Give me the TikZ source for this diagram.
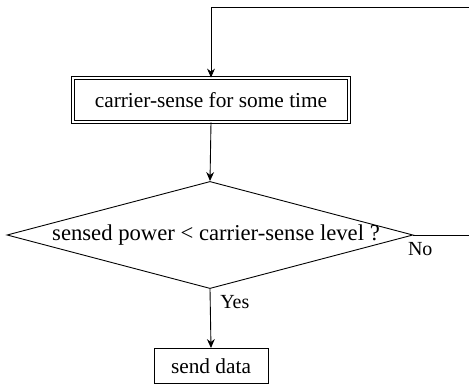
\documentclass[tikz,border=0pt]{standalone}
\usepackage{fontspec}
\setmainfont{Liberation Serif}
\usetikzlibrary{arrows.meta,shapes.geometric}

\begin{document}
\begin{tikzpicture}[x=0.45pt,y=-0.45pt,>={Stealth[length=4pt,width=3.5pt]},
    font=\fontsize{9.6pt}{11pt}\selectfont,
    procbox/.style={draw,rectangle,inner sep=0pt},
    testbox/.style={draw,diamond,inner sep=0pt,minimum width=182.7pt,minimum height=48.2pt}]
          \useasboundingbox (0,0) rectangle (469,385);
          \node[procbox,double,double distance=1.1pt,minimum width=124pt,minimum height=19.8pt] (sense) at (211,100) {carrier-sense for some time};
          \node[testbox] (test) at (210,235) {};
          \node[font=\fontsize{10.2pt}{12pt}\selectfont] at (216,235) {sensed power < carrier-sense level ?};
          \node[procbox,minimum width=51.3pt,minimum height=15.8pt] (send) at (211,366) {send data};
          \coordinate (loop) at (470,7);   % back edge, top
          \coordinate (noend) at (470,235);  % back edge, No branch
          \draw[->] (loop) -| (sense.north);
          \draw[->] (sense.south) -- (test.north);
          \draw[->] (test.south) -- node[pos=0.22,right=1pt] {\small Yes} (send.north);
          \draw (test.east) -- node[pos=0.12,below=0pt] {\small No} (noend);
        \end{tikzpicture}
\end{document}
